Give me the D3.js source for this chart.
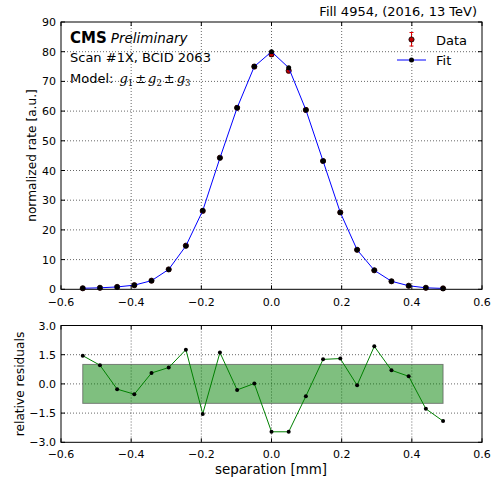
<!DOCTYPE html>
<html><head><meta charset="utf-8">
<script src="https://cdn.jsdelivr.net/npm/d3@7"></script>
<style>
body{margin:0;background:#fff;}
text{font-family:"DejaVu Sans",sans-serif;fill:#000;}
</style></head><body>
<svg id="c" width="492" height="485"></svg>
<script>
// ---- data ----
const separation = [-0.538,-0.489,-0.440,-0.391,-0.342,-0.293,-0.244,-0.196,-0.147,-0.098,-0.049,0.0,0.049,0.098,0.147,0.196,0.244,0.293,0.342,0.391,0.440,0.489];
const fitRate    = [0.35,0.5,0.8,1.4,2.9,6.7,14.6,26.5,44.2,61.1,75.0,80.0,74.6,60.4,43.2,25.9,13.3,6.4,2.7,1.2,0.5,0.3];
const dataRate   = [0.35,0.5,0.8,1.4,2.9,6.7,14.7,26.4,44.3,61.1,75.0,79.1,73.6,60.4,43.2,25.9,13.3,6.4,2.7,1.2,0.5,0.3];
const dataErr    = [0.05,0.06,0.08,0.1,0.15,0.2,0.3,0.4,0.5,0.6,0.7,0.7,0.7,0.6,0.5,0.4,0.3,0.2,0.15,0.1,0.06,0.05];
const residuals  = [1.45,0.96,-0.27,-0.53,0.56,0.84,1.76,-1.54,1.61,-0.31,0.02,-2.46,-2.46,-0.63,1.26,1.30,-0.07,1.93,0.70,0.39,-1.28,-1.91];
const xTicks = [-0.6,-0.4,-0.2,0.0,0.2,0.4,0.6];
const yTicksTop = [0,10,20,30,40,50,60,70,80,90];
const yTicksRes = [-3.0,-1.5,0.0,1.5,3.0];
const bandRange = [-1,1];

const svg = d3.select("#c");
const L=61, R=482;
const x = d3.scaleLinear().domain([-0.6,0.6]).range([L,R]);
const yT = d3.scaleLinear().domain([0,90]).range([289.3,22]);
const yB = d3.scaleLinear().domain([-3,3]).range([442.3,325.5]);
const fmtMinus = s => s.replace("-","\u2212");

function grid(y, yTicks, top, bottom){
  const g = svg.append("g");
  xTicks.slice(1,-1).forEach(t=>{
    g.append("line").attr("x1",x(t)).attr("x2",x(t)).attr("y1",top).attr("y2",bottom)
     .attr("stroke","#000").attr("stroke-width",0.6).attr("stroke-dasharray","1,2");
  });
  yTicks.forEach(t=>{
    if (Math.abs(y(t)-top)<1||Math.abs(y(t)-bottom)<1) return;
    g.append("line").attr("x1",L).attr("x2",R).attr("y1",y(t)).attr("y2",y(t))
     .attr("stroke","#000").attr("stroke-width",0.6).attr("stroke-dasharray","1,2");
  });
}
function axesBox(y, yTicks, yfmt, top, bottom, xoff){
  const g = svg.append("g");
  g.append("rect").attr("x",L).attr("y",top).attr("width",R-L).attr("height",bottom-top)
   .attr("fill","none").attr("stroke","#000").attr("stroke-width",1);
  xTicks.forEach(t=>{
    g.append("line").attr("x1",x(t)).attr("x2",x(t)).attr("y1",bottom).attr("y2",bottom-4).attr("stroke","#000");
    g.append("line").attr("x1",x(t)).attr("x2",x(t)).attr("y1",top).attr("y2",top+4).attr("stroke","#000");
    g.append("text").attr("x",x(t)).attr("y",bottom+xoff).attr("text-anchor","middle")
     .attr("font-size",11).text(fmtMinus(d3.format(".1f")(t)));
  });
  yTicks.forEach(t=>{
    g.append("line").attr("x1",L).attr("x2",L+4).attr("y1",y(t)).attr("y2",y(t)).attr("stroke","#000");
    g.append("line").attr("x1",R).attr("x2",R-4).attr("y1",y(t)).attr("y2",y(t)).attr("stroke","#000");
    g.append("text").attr("x",L-5).attr("y",y(t)+4).attr("text-anchor","end")
     .attr("font-size",11).text(fmtMinus(yfmt(t)));
  });
}

// ---- top panel ----
grid(yT, yTicksTop, 22, 289.3);
const line = d3.line().x((d,i)=>x(separation[i])).y(d=>yT(d));
const eg = svg.append("g");
separation.forEach((s,i)=>{
  const cx=x(s), y1=yT(dataRate[i]+dataErr[i]), y2=yT(dataRate[i]-dataErr[i]);
  eg.append("line").attr("x1",cx).attr("x2",cx).attr("y1",y1).attr("y2",y2).attr("stroke","#e00000").attr("stroke-width",1);
  eg.append("line").attr("x1",cx-2).attr("x2",cx+2).attr("y1",y1).attr("y2",y1).attr("stroke","#e00000");
  eg.append("line").attr("x1",cx-2).attr("x2",cx+2).attr("y1",y2).attr("y2",y2).attr("stroke","#e00000");
  eg.append("circle").attr("cx",cx).attr("cy",yT(dataRate[i])).attr("r",2.6).attr("fill","#c00000").attr("stroke","#000").attr("stroke-width",0.8);
});
svg.append("path").datum(fitRate).attr("d",line).attr("fill","none").attr("stroke","#0000ff").attr("stroke-width",1);
svg.append("g").selectAll("circle").data(fitRate).join("circle")
  .attr("cx",(d,i)=>x(separation[i])).attr("cy",d=>yT(d)).attr("r",2.5).attr("fill","#000");
axesBox(yT, yTicksTop, d3.format("d"), 22, 289.3, 17);

// ---- bottom panel ----
grid(yB, yTicksRes, 325.5, 442.3);
svg.append("rect").attr("x",x(separation[0])).attr("width",x(separation[separation.length-1])-x(separation[0]))
  .attr("y",yB(bandRange[1])).attr("height",yB(bandRange[0])-yB(bandRange[1]))
  .attr("fill","#008000").attr("fill-opacity",0.5).attr("stroke","#555").attr("stroke-opacity",0.7).attr("stroke-width",1);
const rline = d3.line().x((d,i)=>x(separation[i])).y(d=>yB(d));
svg.append("path").datum(residuals).attr("d",rline).attr("fill","none").attr("stroke","#008000").attr("stroke-width",1);
svg.append("g").selectAll("circle").data(residuals).join("circle")
  .attr("cx",(d,i)=>x(separation[i])).attr("cy",d=>yB(d)).attr("r",2).attr("fill","#000");
axesBox(yB, yTicksRes, d3.format(".1f"), 325.5, 442.3, 16);

// ---- texts ----
svg.append("text").attr("x",477).attr("y",16).attr("text-anchor","end").attr("font-size",13).text("Fill 4954, (2016, 13 TeV)");
const t1 = svg.append("text").attr("x",70).attr("y",42.5).attr("font-size",14);
t1.append("tspan").attr("font-weight","bold").attr("font-size",15).text("CMS");
t1.append("tspan").attr("font-style","italic").attr("font-size",13.5).attr("dx",4).text("Preliminary");
svg.append("text").attr("x",70).attr("y",62).attr("font-size",13).text("Scan #1X, BCID 2063");
const t3 = svg.append("text").attr("x",70).attr("y",83).attr("font-size",13);
t3.append("tspan").text("Model:");
const ser = "DejaVu Serif";
t3.append("tspan").attr("font-family",ser).attr("font-style","italic").attr("dx",6).text("g");
t3.append("tspan").attr("font-family",ser).attr("font-size",8.5).attr("dy",3).text("1");
t3.append("tspan").attr("font-family",ser).attr("dx",2).attr("dy",-3).text("\u00b1");
t3.append("tspan").attr("font-family",ser).attr("font-style","italic").attr("dx",2).text("g");
t3.append("tspan").attr("font-family",ser).attr("font-size",8.5).attr("dy",3).text("2");
t3.append("tspan").attr("font-family",ser).attr("dx",2).attr("dy",-3).text("\u00b1");
t3.append("tspan").attr("font-family",ser).attr("font-style","italic").attr("dx",2).text("g");
t3.append("tspan").attr("font-family",ser).attr("font-size",8.5).attr("dy",3).text("3");

// legend
const lg = svg.append("g");
lg.append("line").attr("x1",411.5).attr("x2",411.5).attr("y1",32.5).attr("y2",46).attr("stroke","#e00000");
lg.append("line").attr("x1",409.5).attr("x2",413.5).attr("y1",32.5).attr("y2",32.5).attr("stroke","#e00000");
lg.append("line").attr("x1",409.5).attr("x2",413.5).attr("y1",46).attr("y2",46).attr("stroke","#e00000");
lg.append("circle").attr("cx",411.5).attr("cy",39.5).attr("r",2.6).attr("fill","#c00000").attr("stroke","#000").attr("stroke-width",0.8);
lg.append("text").attr("x",436).attr("y",44.5).attr("font-size",13).text("Data");
lg.append("line").attr("x1",397).attr("x2",426).attr("y1",60).attr("y2",60).attr("stroke","#0000ff");
lg.append("circle").attr("cx",411.5).attr("cy",60).attr("r",2.5).attr("fill","#000");
lg.append("text").attr("x",436).attr("y",65).attr("font-size",13).text("Fit");

// axis labels
svg.append("text").attr("transform","translate(35.5,155.5) rotate(-90)").attr("text-anchor","middle").attr("font-size",12.2).text("normalized rate [a.u.]");
svg.append("text").attr("transform","translate(23.5,384) rotate(-90)").attr("text-anchor","middle").attr("font-size",12.2).text("relative residuals");
svg.append("text").attr("x",271).attr("y",474).attr("text-anchor","middle").attr("font-size",13.4).text("separation [mm]");
</script>
</body></html>
